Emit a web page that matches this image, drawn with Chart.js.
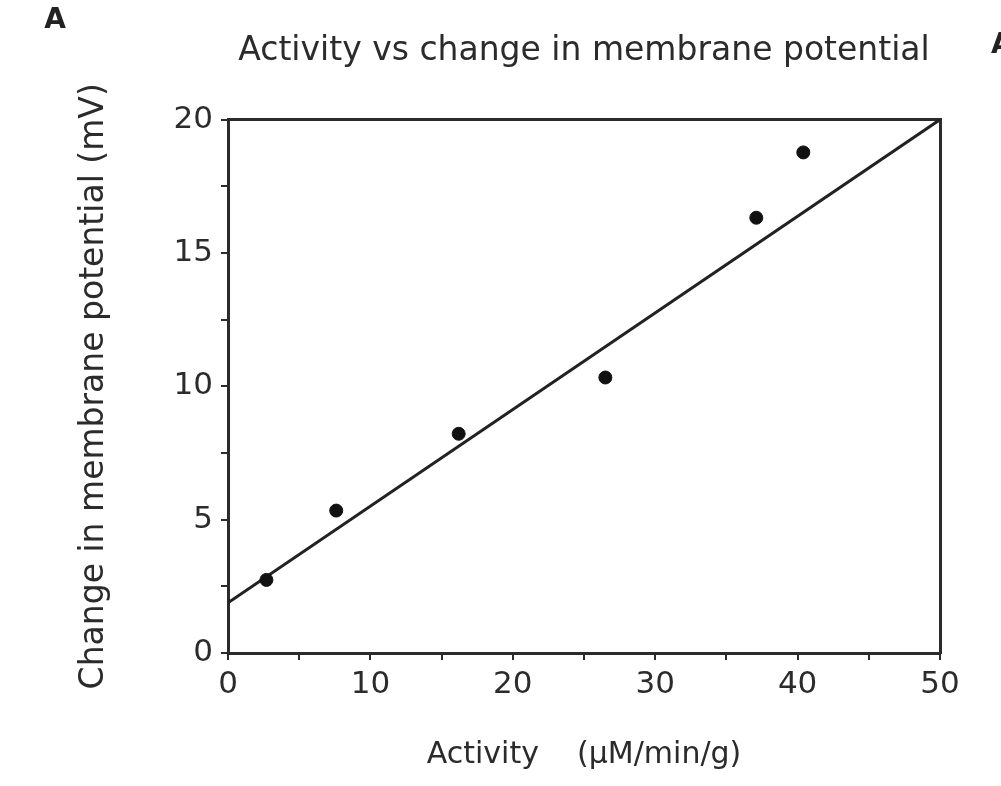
<!DOCTYPE html>
<html>
<head>
<meta charset="utf-8">
<script src="https://cdn.jsdelivr.net/npm/chart.js@4.4.1/dist/chart.umd.min.js"></script>
<style>
  html, body { margin: 0; padding: 0; background: #fff; }
  canvas { display: block; }
</style>
</head>
<body>
<canvas id="activityChart" width="1001" height="786"></canvas>
<script>
// data
const activity = [2.7, 7.6, 16.2, 26.5, 37.1, 40.4];        // µM/min/g
const potential = [2.74, 5.34, 8.22, 10.33, 16.32, 18.77];   // mV
const fitX = [0, 50];
const fitY = [1.88, 20];

const xTicksMajor = 10;
const yTicksMajor = 5;

const ink = '#2b2b2b';
const fontFamily = '"DejaVu Sans", sans-serif';

// panel letters ("A" at left, clipped "A" at the right edge)
const panelLetters = {
    id: 'panelLetters',
    afterDraw(chart) {
        const ctx = chart.ctx;
        ctx.save();
        ctx.fillStyle = '#222';
        ctx.font = 'bold 28px ' + fontFamily;
        ctx.textBaseline = 'middle';
        ctx.textAlign = 'center';
        ctx.fillText('A', 55, 21);
        ctx.textAlign = 'left';
        ctx.fillText('A', 991, 46);
        ctx.restore();
    }
};

const ctx = document.getElementById('activityChart').getContext('2d');
new Chart(ctx, {
    data: {
        datasets: [
            {
                type: 'scatter',
                label: 'Measured',
                data: activity.map((x, i) => ({ x: x, y: potential[i] })),
                backgroundColor: '#111',
                borderColor: '#111',
                pointRadius: 6.5,
                pointHoverRadius: 6.5
            },
            {
                type: 'line',
                label: 'Fit',
                data: fitX.map((x, i) => ({ x: x, y: fitY[i] })),
                borderColor: '#222',
                borderWidth: 3,
                pointRadius: 0,
                fill: false
            }
        ]
    },
    options: {
        responsive: false,
        animation: false,
        layout: { padding: 0 },
        plugins: {
            legend: { display: false },
            tooltip: { enabled: false },
            title: {
                display: true,
                fullSize: false,
                text: 'Activity vs change in membrane potential',
                color: ink,
                font: { family: fontFamily, size: 33, weight: 'normal' },
                padding: { top: 32, bottom: 48 }
            }
        },
        scales: {
            x: {
                type: 'linear',
                position: 'bottom',
                min: 0,
                max: 50,
                afterFit: s => { s.height = 133; },
                border: { display: true, color: ink, width: 3 },
                grid: { drawOnChartArea: false, drawTicks: true, tickLength: 7, color: ink, lineWidth: 2 },
                ticks: {
                    stepSize: 5,
                    autoSkip: false,
                    maxRotation: 0,
                    padding: 6,
                    color: ink,
                    font: { family: fontFamily, size: 31 },
                    callback: v => (v % xTicksMajor === 0 ? v : '')
                },
                title: {
                    display: true,
                    text: 'Activity    (\u00B5M/min/g)',
                    color: ink,
                    font: { family: fontFamily, size: 30 },
                    padding: { top: 0, bottom: 13 }
                }
            },
            y: {
                type: 'linear',
                position: 'left',
                min: 0,
                max: 20,
                afterFit: s => { s.width = 228; },
                border: { display: true, color: ink, width: 3 },
                grid: { drawOnChartArea: false, drawTicks: true, tickLength: 7, color: ink, lineWidth: 2 },
                ticks: {
                    stepSize: 2.5,
                    autoSkip: false,
                    padding: 8,
                    color: ink,
                    font: { family: fontFamily, size: 31 },
                    callback: v => (v % yTicksMajor === 0 ? v : '')
                },
                title: {
                    display: true,
                    text: 'Change in membrane potential (mV)',
                    color: ink,
                    font: { family: fontFamily, size: 33 },
                    padding: { top: 75, bottom: 0 }
                }
            },
            xTop: {
                type: 'linear',
                position: 'top',
                min: 0,
                max: 50,
                afterFit: s => { s.height = 0; },
                border: { display: true, color: ink, width: 3 },
                grid: { display: false },
                ticks: { display: false }
            },
            yRight: {
                type: 'linear',
                position: 'right',
                min: 0,
                max: 20,
                afterFit: s => { s.width = 61; },
                border: { display: true, color: ink, width: 3 },
                grid: { display: false },
                ticks: { display: false }
            }
        }
    },
    plugins: [panelLetters]
});
</script>
</body>
</html>
